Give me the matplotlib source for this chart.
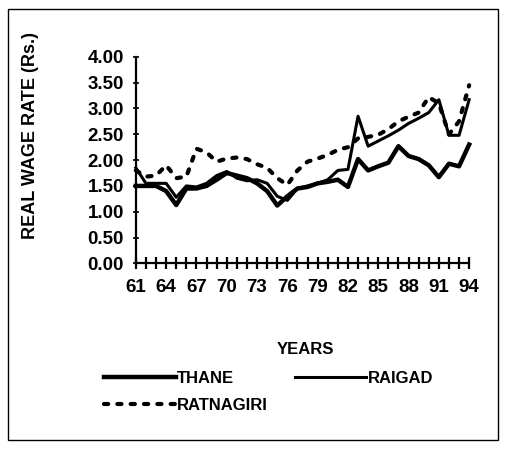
import matplotlib
matplotlib.use("Agg")
import matplotlib.pyplot as plt
from matplotlib.patches import Rectangle

years = list(range(61, 95))
thane = [1.50, 1.50, 1.50, 1.40, 1.13, 1.45, 1.45, 1.50, 1.62, 1.75,
         1.70, 1.65, 1.55, 1.40, 1.12, 1.30, 1.45, 1.48, 1.55, 1.58,
         1.62, 1.48, 2.02, 1.80, 1.88, 1.95, 2.27, 2.08, 2.02, 1.90,
         1.67, 1.93, 1.88, 2.30]
raigad = [1.85, 1.55, 1.55, 1.55, 1.28, 1.50, 1.48, 1.55, 1.70, 1.78,
          1.65, 1.60, 1.62, 1.55, 1.30, 1.22, 1.45, 1.50, 1.55, 1.62,
          1.80, 1.82, 2.85, 2.27, 2.37, 2.47, 2.58, 2.71, 2.81, 2.92,
          3.17, 2.48, 2.48, 3.17]
ratnagiri = [1.80, 1.68, 1.70, 1.90, 1.65, 1.68, 2.22, 2.15, 1.97, 2.03,
             2.05, 2.02, 1.92, 1.85, 1.65, 1.52, 1.80, 1.97, 2.03, 2.10,
             2.20, 2.25, 2.42, 2.45, 2.49, 2.60, 2.75, 2.84, 2.92, 3.22,
             3.10, 2.50, 2.75, 3.45]
yticks = [0.0, 0.5, 1.0, 1.5, 2.0, 2.5, 3.0, 3.5, 4.0]

plt.rcParams['font.family'] = ['Liberation Sans', 'DejaVu Sans']
plt.rcParams['font.weight'] = 'bold'

fig = plt.figure(figsize=(5.05, 4.51), dpi=100)
ax = fig.add_axes([0.269, 0.416, 0.66, 0.458])

l1, = ax.plot(years, thane, color='black', linewidth=3.2, clip_on=False,
              label='THANE')
l2, = ax.plot(years, raigad, color='black', linewidth=2.2, clip_on=False,
              label='RAIGAD')
l3, = ax.plot(years, ratnagiri, color='black', linewidth=3.0,
              linestyle=(0, (1, 2.2)), dash_capstyle='round', clip_on=False,
              label='RATNAGIRI')

ax.set_xlim(61, 94)
ax.set_ylim(0, 4)
ax.set_yticks(yticks)
ax.set_yticklabels(['%.2f' % v for v in yticks], fontsize=13.5, fontweight='bold')
ax.set_xticks(years)
ax.set_xticklabels([str(y) if (y - 61) % 3 == 0 else '' for y in years],
                   fontsize=13.5, fontweight='bold')
ax.tick_params(axis='x', direction='inout', length=9, width=1.6, pad=7)
ax.tick_params(axis='y', direction='inout', length=5, width=1.2, pad=6)
for s in ['top', 'right']:
    ax.spines[s].set_visible(False)
for s in ['left', 'bottom']:
    ax.spines[s].set_linewidth(1.6)

ax.set_ylabel('REAL WAGE RATE (Rs.)', fontsize=13, fontweight='bold')
ax.yaxis.set_label_coords(-0.29, 0.62)
fig.text(0.605, 0.226, 'YEARS', fontsize=12, fontweight='bold',
         ha='center', va='center')

fig.legend([l1, l3, l2], ['THANE', 'RATNAGIRI', 'RAIGAD'], ncol=2,
           loc='upper left', bbox_to_anchor=(0.176, 0.21), frameon=False,
           fontsize=12, handlelength=4.3, handletextpad=0.1,
           columnspacing=1.6, labelspacing=0.7)

fig.patches.append(Rectangle((0.016, 0.025), 0.97, 0.955, transform=fig.transFigure,
                             fill=False, edgecolor='black', linewidth=1.0))

fig.savefig('out.png', dpi=100)
